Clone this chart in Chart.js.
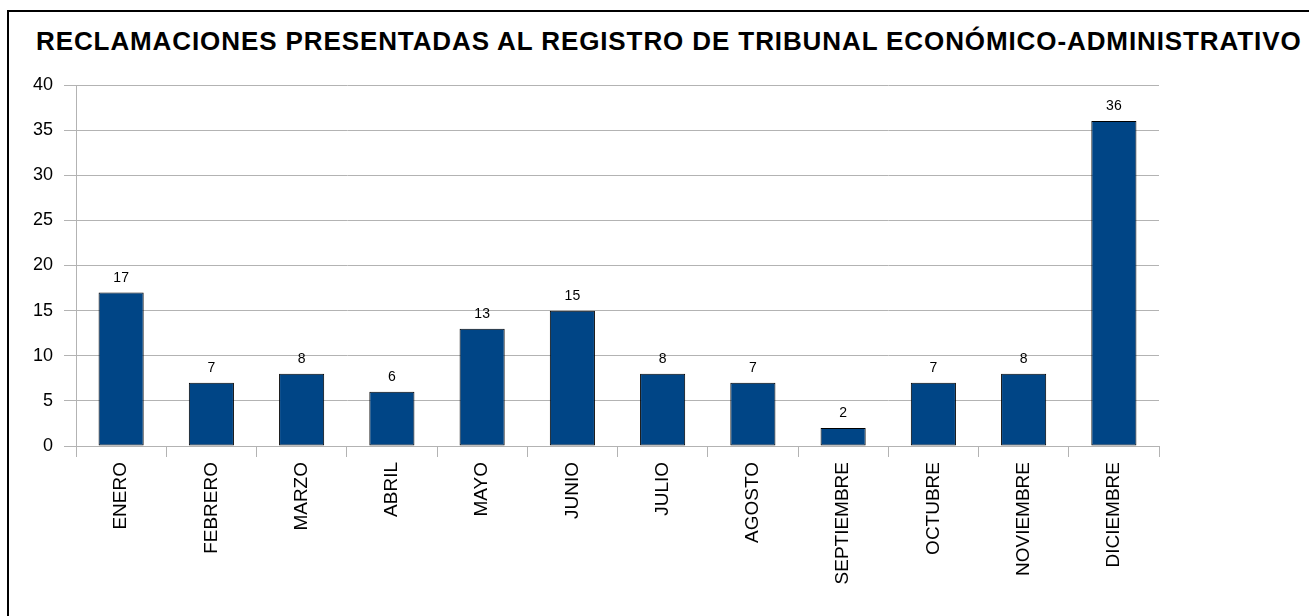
<!DOCTYPE html>
<html lang="es">
<head>
<meta charset="utf-8">
<title>Reclamaciones presentadas</title>
<script src="https://cdn.jsdelivr.net/npm/chart.js@4/dist/chart.umd.min.js"></script>
<style>
  html, body { margin: 0; padding: 0; background: #fff; overflow: hidden; }
  body { width: 1309px; height: 616px; position: relative; font-family: "Liberation Sans", Arial, sans-serif; }
  .frame { position: absolute; left: 7px; top: 10px; width: 1400px; height: 700px; border-top: 2px solid #000; border-left: 2px solid #000; }
  h1 { position: absolute; left: 36px; top: 28px; margin: 0; font-size: 26px; line-height: 26px; letter-spacing: 0.9px; font-weight: bold; color: #000; white-space: nowrap; }
  #wrap { position: absolute; left: 0; top: 0; width: 1309px; height: 616px; }
</style>
</head>
<body>
<div class="frame"></div>
<h1>RECLAMACIONES PRESENTADAS AL REGISTRO DE TRIBUNAL ECONÓMICO-ADMINISTRATIVO</h1>
<div id="wrap"><canvas id="chart"></canvas></div>
<script>
  const months = ['ENERO', 'FEBRERO', 'MARZO', 'ABRIL', 'MAYO', 'JUNIO', 'JULIO', 'AGOSTO', 'SEPTIEMBRE', 'OCTUBRE', 'NOVIEMBRE', 'DICIEMBRE'];
  const claims = [17, 7, 8, 6, 13, 15, 8, 7, 2, 7, 8, 36];
  const yMin = 0, yMax = 40, yStep = 5;

  const gridGray = '#b3b3b3';
  const barBlue = '#004586';
  const font = '"Liberation Sans", Arial, sans-serif';

  // etiquetas de valor encima de cada barra
  const valueLabels = {
    id: 'valueLabels',
    afterDatasetsDraw(chart) {
      const { ctx } = chart;
      const meta = chart.getDatasetMeta(0);
      ctx.save();
      ctx.font = '14px ' + font;
      ctx.fillStyle = '#000';
      ctx.textAlign = 'center';
      ctx.textBaseline = 'alphabetic';
      meta.data.forEach((bar, i) => {
        ctx.fillText(String(claims[i]), bar.x, bar.y - 11);
      });
      ctx.restore();
    },
  };

  new Chart(document.getElementById('chart'), {
    type: 'bar',
    data: {
      labels: months,
      datasets: [{
        data: claims,
        backgroundColor: barBlue,
        borderColor: '#000',
        borderWidth: 1,
        borderSkipped: false,
        categoryPercentage: 1,
        barPercentage: 0.5,
      }],
    },
    options: {
      responsive: true, maintainAspectRatio: false, animation: false,
      layout: { padding: { left: 10, right: 150, top: 85, bottom: 10 } },
      plugins: { legend: { display: false }, title: { display: false }, tooltip: { enabled: false } },
      scales: {
        x: {
          grid: {
            offset: true,
            drawOnChartArea: true,
            color: (c) => (c.index === months.length ? gridGray : 'transparent'),
            tickColor: gridGray,
            tickLength: 11,
          },
          border: { color: gridGray },
          ticks: { color: '#000', font: { family: font, size: 19 }, minRotation: 90, maxRotation: 90, padding: 5, autoSkip: false },
          afterFit: (s) => { s.height = 160; },
        },
        y: {
          min: yMin, max: yMax,
          grid: { color: gridGray, tickLength: 12 },
          border: { color: gridGray },
          ticks: { stepSize: yStep, color: '#000', font: { family: font, size: 18 }, padding: 11 },
          afterFit: (s) => { s.width = 66; },
        },
      },
    },
    plugins: [valueLabels],
  });
</script>
</body>
</html>
